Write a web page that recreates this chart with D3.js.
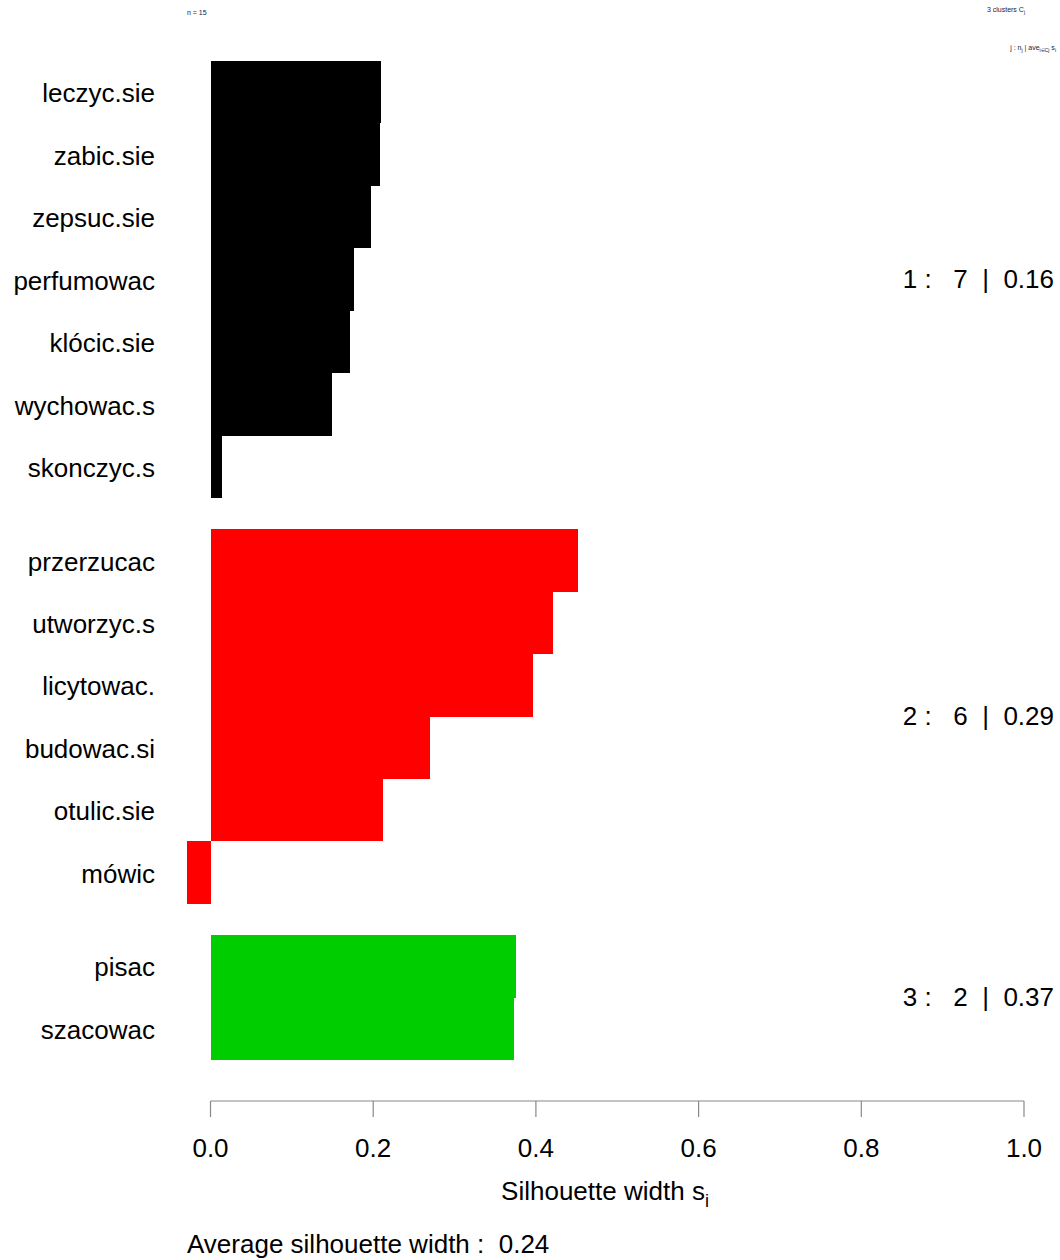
<!DOCTYPE html>
<html><head><meta charset="utf-8">
<script src="https://cdn.jsdelivr.net/npm/d3@7"></script>
<style>body{margin:0;background:#fff}svg{display:block}text{font-family:"Liberation Sans",Arial,sans-serif}</style>
</head><body>
<script>
const labels = ["leczyc.sie","zabic.sie","zepsuc.sie","perfumowac","klócic.sie","wychowac.s","skonczyc.s",
"przerzucac","utworzyc.s","licytowac.","budowac.si","otulic.sie","mówic","pisac","szacowac"];
const clusters = [1,1,1,1,1,1,1,2,2,2,2,2,2,3,3];
const widths = [0.210,0.208,0.197,0.176,0.171,0.149,0.014,0.452,0.421,0.397,0.270,0.212,-0.029,0.3755,0.373];
const clusterColors = ["#000000","#FF0000","#00CD00"];
const clusterSizes = [7,6,2];
const clusterAvg = ["0.16","0.29","0.37"];
const xTicks = [0,0.2,0.4,0.6,0.8,1.0];
const avgWidth = "0.24";

const W=1060,H=1260,FS=26;
const svg=d3.select("body").append("svg").attr("width",W).attr("height",H);
const x=d3.scaleLinear().domain([0,1]).range([210.5,1024]);
const pos=[];let u=0;
labels.forEach((l,i)=>{ if(i>0&&clusters[i]!==clusters[i-1]) u+=0.5; pos.push(u); u+=1;});
const y=d3.scaleLinear().domain([0,u]).range([61,1060]);

svg.selectAll("rect.bar").data(widths).join("rect")
 .attr("x",d=>x(Math.min(0,d))).attr("width",d=>Math.abs(x(d)-x(0)))
 .attr("y",(d,i)=>y(pos[i])).attr("height",(d,i)=>y(pos[i]+1)-y(pos[i]))
 .attr("fill",(d,i)=>clusterColors[clusters[i]-1])
 .attr("shape-rendering","crispEdges");

svg.selectAll("text.lab").data(labels).join("text")
 .attr("x",155).attr("y",(d,i)=>(y(pos[i])+y(pos[i]+1))/2+1).attr("dy","0.35em")
 .attr("text-anchor","end").attr("font-size",FS).attr("fill","#000").text(d=>d);

[1,2,3].forEach((c,k)=>{
  const idx=clusters.map((v,i)=>v===c?i:-1).filter(i=>i>=0);
  const y0=y(pos[idx[0]]), y1=y(pos[idx[idx.length-1]]+1);
  svg.append("text").attr("x",1054).attr("y",(y0+y1)/2-1).attr("dy","0.35em")
   .attr("text-anchor","end").attr("font-size",FS).attr("xml:space","preserve")
   .text(`${c} :   ${clusterSizes[k]}  |  ${clusterAvg[k]}`);
});

const ax=svg.append("g").attr("transform","translate(0,1101)");
ax.append("line").attr("x1",x(0)).attr("x2",x(1)).attr("stroke","#888").attr("stroke-width",1.2);
xTicks.forEach(t=>{
  ax.append("line").attr("x1",x(t)).attr("x2",x(t)).attr("y1",0).attr("y2",16).attr("stroke","#888").attr("stroke-width",1.2);
  ax.append("text").attr("x",x(t)).attr("y",47).attr("dy","0.35em").attr("text-anchor","middle").attr("font-size",FS).text(t.toFixed(1));
});
const xl=svg.append("text").attr("x",605).attr("y",1200).attr("text-anchor","middle").attr("font-size",FS);
xl.append("tspan").text("Silhouette width s");
xl.append("tspan").attr("font-size",18).attr("dy",7).text("i");

svg.append("text").attr("x",187).attr("y",1253).attr("font-size",FS).attr("xml:space","preserve")
 .text("Average silhouette width :  "+avgWidth);

svg.append("text").attr("x",187).attr("y",15).attr("font-size",7).attr("fill","#1a1a40").text("n = 15");
const t2=svg.append("text").attr("x",1025).attr("y",12).attr("font-size",7).attr("text-anchor","end").attr("fill","#1a1a40");
t2.append("tspan").text("3  clusters  C");t2.append("tspan").attr("font-size",5).attr("dy",2).text("j");
const t3=svg.append("text").attr("x",1056).attr("y",50).attr("font-size",7).attr("text-anchor","end").attr("fill","#1a1a40");
t3.append("tspan").text("j :  n");t3.append("tspan").attr("font-size",5).attr("dy",2).text("j");
t3.append("tspan").attr("dy",-2).text(" | ave");t3.append("tspan").attr("font-size",5).attr("dy",2).text("i∈Cj");
t3.append("tspan").attr("dy",-2).text("  s");t3.append("tspan").attr("font-size",5).attr("dy",2).text("i");
</script>
</body></html>
